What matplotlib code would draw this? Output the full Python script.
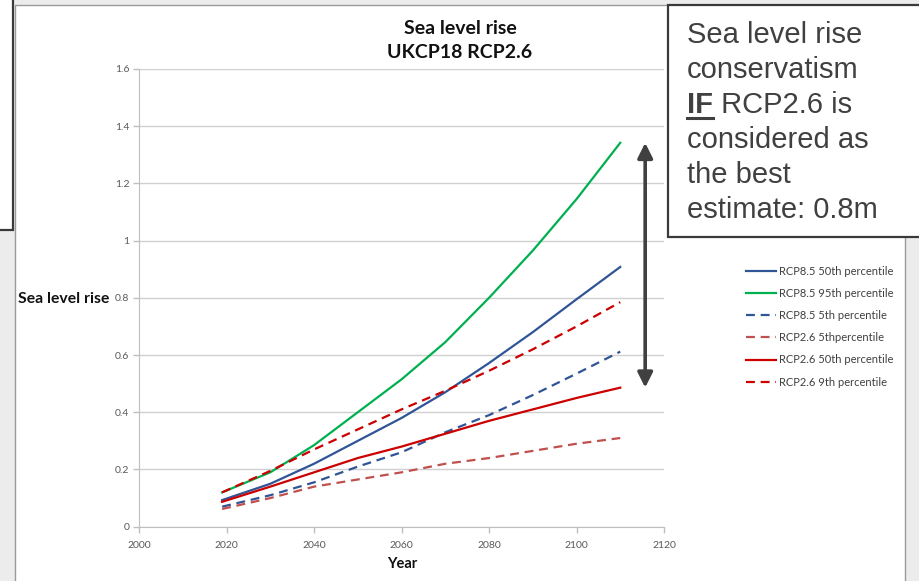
import matplotlib.pyplot as plt
from matplotlib.patches import Rectangle
from matplotlib.lines import Line2D

# Sea level rise projections (m)
years = [2019, 2030, 2040, 2050, 2060, 2070, 2080, 2090, 2100, 2110]
rcp85_50 = [0.093, 0.15, 0.22, 0.30, 0.38, 0.47, 0.572, 0.68, 0.795, 0.908]
rcp85_95 = [0.12, 0.19, 0.285, 0.40, 0.515, 0.645, 0.80, 0.965, 1.145, 1.342]
rcp85_5 = [0.07, 0.11, 0.155, 0.21, 0.26, 0.33, 0.39, 0.46, 0.535, 0.612]
rcp26_5 = [0.062, 0.10, 0.14, 0.165, 0.19, 0.22, 0.24, 0.265, 0.29, 0.31]
rcp26_50 = [0.087, 0.14, 0.19, 0.24, 0.28, 0.325, 0.37, 0.41, 0.45, 0.486]
rcp26_9 = [0.12, 0.195, 0.27, 0.34, 0.41, 0.475, 0.545, 0.62, 0.70, 0.785]

yticks = [0, 0.2, 0.4, 0.6, 0.8, 1.0, 1.2, 1.4, 1.6]
ytick_labels = ['0', '0.2', '0.4', '0.6', '0.8', '1', '1.2', '1.4', '1.6']
xticks = [2000, 2020, 2040, 2060, 2080, 2100, 2120]

W, H = 920, 581
fig = plt.figure(figsize=(W / 100, H / 100), dpi=100, facecolor='#ECECEC')


def fx(px):
    return px / W


def fy(py):
    return 1 - py / H


# white slide panel and the cut-off box at the top left
fig.patches.append(Rectangle((fx(15), fy(600)), fx(905) - fx(15), fy(5) - fy(600), transform=fig.transFigure,
                             facecolor='white', edgecolor='#9A9A9A', lw=1, zorder=-10))
fig.patches.append(Rectangle((fx(-5), fy(230)), fx(18), fy(-5) - fy(230), transform=fig.transFigure,
                             facecolor='white', edgecolor='#3A3A3A', lw=1.6, zorder=-9))

ax = fig.add_axes([fx(139), fy(526.7), fx(664) - fx(139), fy(69) - fy(526.7)])
ax.set_facecolor('none')

blue = '#2F5597'
green = '#00B050'
red = '#CC0000'
brown = '#C0504D'
dash = (4, 2.6)

ax.plot(years, rcp85_50, color=blue, lw=1.6, label='RCP8.5 50th percentile')
ax.plot(years, rcp85_95, color=green, lw=1.6, label='RCP8.5 95th percentile')
ax.plot(years, rcp85_5, color=blue, lw=1.6, dashes=dash, label='RCP8.5 5th percentile')
ax.plot(years, rcp26_5, color=brown, lw=1.6, dashes=dash, label='RCP2.6 5thpercentile')
ax.plot(years, rcp26_50, color=red, lw=1.6, label='RCP2.6 50th percentile')
ax.plot(years, rcp26_9, color=red, lw=1.6, dashes=dash, label='RCP2.6 9th percentile')

ax.set_xlim(2000, 2120)
ax.set_ylim(0, 1.6)
ax.set_xticks(xticks)
ax.set_yticks(yticks)
ax.set_yticklabels(ytick_labels)
ax.grid(axis='y', color='#D0D0D0', lw=1)
ax.set_axisbelow(True)
for s in ['top', 'right']:
    ax.spines[s].set_visible(False)
for s in ['left', 'bottom']:
    ax.spines[s].set_color('#BFBFBF')
ax.tick_params(axis='both', colors='#BFBFBF', labelcolor='#595959', labelsize=7.5,
               length=4, width=1)
ax.tick_params(axis='y', pad=3)
ax.tick_params(axis='x', pad=6)
for lab in ax.get_xticklabels() + ax.get_yticklabels():
    lab.set_family('Lato')

# double arrow between the top of RCP8.5 95th and RCP2.6 50th
ax.annotate('', xy=(2115.7, rcp85_95[-1]), xytext=(2115.7, rcp26_50[-1]),
            arrowprops=dict(arrowstyle='<|-|>,head_length=0.9,head_width=0.45',
                            color='#404040', lw=2.6, shrinkA=0, shrinkB=0),
            annotation_clip=False)

fig.text(fx(460), fy(28), 'Sea level rise', ha='center', va='center',
         family='Lato', weight='bold', fontsize=14, color='#111111')
fig.text(fx(460), fy(52), 'UKCP18 RCP2.6', ha='center', va='center',
         family='Lato', weight='bold', fontsize=14, color='#111111')
fig.text(fx(18), fy(299), 'Sea level rise', ha='left', va='center',
         family='Lato', weight='bold', fontsize=11.3, color='#111111')
fig.text(fx(402), fy(564), 'Year', ha='center', va='center',
         family='Lato', weight='bold', fontsize=10.5, color='#111111')

leg = fig.legend(loc='upper left', bbox_to_anchor=(fx(736), fy(256)), frameon=False,
                 prop={'family': 'Lato', 'size': 8}, handlelength=2.7, handletextpad=0.3,
                 labelspacing=1.0, labelcolor='#404040')

# text box on the right
fig.patches.append(Rectangle((fx(668), fy(237)), fx(980) - fx(668), fy(5) - fy(237),
                             transform=fig.transFigure, facecolor='white',
                             edgecolor='#3A3A3A', lw=1.6, zorder=5))
box_lines = ['Sea level rise', 'conservatism', None, 'considered as', 'the best', 'estimate: 0.8m']
tc = '#404040'
for i, line in enumerate(box_lines):
    base = 43 + 35 * i
    if line is None:
        t_if = fig.text(fx(687), fy(base), 'IF', ha='left', va='baseline', family='Liberation Sans',
                        weight='bold', fontsize=21, color=tc, zorder=6)
        fig.canvas.draw()
        bb = t_if.get_window_extent()
        fig.text(bb.x1 / W, fy(base), ' RCP2.6 is', ha='left', va='baseline', family='Liberation Sans',
                 fontsize=21, color=tc, zorder=6)
        fig.lines.append(Line2D([bb.x0 / W, bb.x1 / W], [fy(base + 5)] * 2, transform=fig.transFigure,
                                color=tc, lw=2.2, zorder=6))
    else:
        fig.text(fx(687), fy(base), line, ha='left', va='baseline', family='Liberation Sans',
                 fontsize=21, color=tc, zorder=6)

fig.savefig('out.png', dpi=100, facecolor=fig.get_facecolor())
